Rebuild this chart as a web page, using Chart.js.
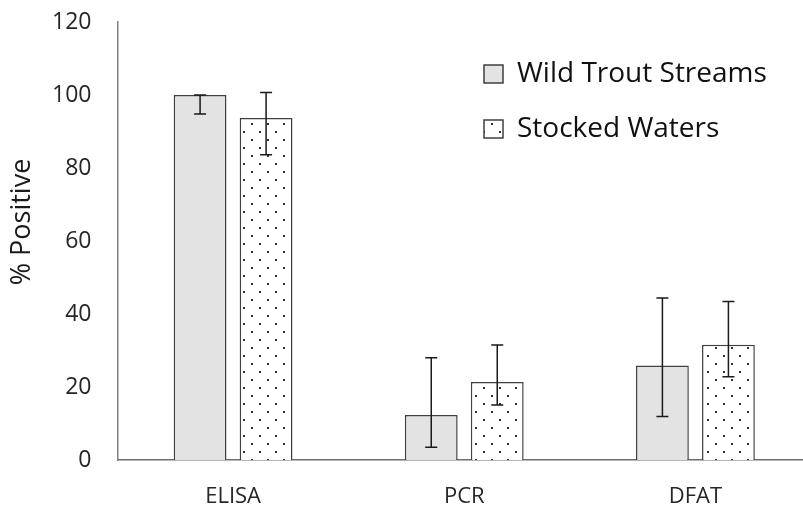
<!DOCTYPE html>
<html>
<head>
<meta charset="utf-8">
<script src="https://cdn.jsdelivr.net/npm/chart.js@4"></script>
<style>
  html, body { margin: 0; padding: 0; background: #fff; overflow: hidden; }
  #wrap { width: 811px; height: 506px; }
</style>
</head>
<body>
<div id="wrap"><canvas id="assayChart"></canvas></div>
<script>
// Detection rates by assay
const categories = ['ELISA', 'PCR', 'DFAT']
const seriesNames = ['Wild Trout Streams', 'Stocked Waters']
const wildValues = [100, 12.3, 25.9]
const stockedValues = [93.7, 21.4, 31.6]
// error bar ends (absolute %)
const wildLow = [94.8, 3.5, 11.9]
const wildHigh = [100, 28.0, 44.4]
const stockedLow = [83.6, 15.1, 22.8]
const stockedHigh = [100.7, 31.5, 43.4]
const yTicks = [0, 20, 40, 60, 80, 100, 120]
const yTitle = '% Positive'

const FONT = '"Open Sans", sans-serif'

document.addEventListener('DOMContentLoaded', function() {
  const canvas = document.getElementById('assayChart')
  const ctx = canvas.getContext('2d')

  // dotted fill for the stocked bars
  function dotPattern() {
    const tile = document.createElement('canvas')
    tile.width = 16
    tile.height = 16
    const g = tile.getContext('2d')
    g.fillStyle = '#ffffff'
    g.fillRect(0, 0, 16, 16)
    g.fillStyle = '#333333'
    g.fillRect(3, 3, 2, 2)
    g.fillRect(11, 11, 2, 2)
    return ctx.createPattern(tile, 'repeat')
  }

  const errorRanges = [
    { low: wildLow, high: wildHigh },
    { low: stockedLow, high: stockedHigh }
  ]

  // whiskers drawn on top of each bar
  const errorBars = {
    id: 'errorBars',
    afterDatasetsDraw(chart) {
      const c = chart.ctx
      const y = chart.scales.y
      c.save()
      c.strokeStyle = '#1a1a1a'
      c.lineWidth = 1.5
      chart.data.datasets.forEach((ds, i) => {
        const meta = chart.getDatasetMeta(i)
        meta.data.forEach((bar, j) => {
          const x = bar.x
          const yLo = y.getPixelForValue(errorRanges[i].low[j])
          const yHi = y.getPixelForValue(errorRanges[i].high[j])
          const cap = 6
          c.beginPath()
          c.moveTo(x, yLo)
          c.lineTo(x, yHi)
          c.moveTo(x - cap, yLo)
          c.lineTo(x + cap, yLo)
          c.moveTo(x - cap, yHi)
          c.lineTo(x + cap, yHi)
          c.stroke()
        })
      })
      c.restore()
    }
  }

  // rotated y title, set a bit above the axis centre
  const axisTitle = {
    id: 'axisTitle',
    afterDraw(chart) {
      const c = chart.ctx
      c.save()
      c.translate(22.5, 222)
      c.rotate(-Math.PI / 2)
      c.font = '27px ' + FONT
      c.fillStyle = '#1a1a1a'
      c.textAlign = 'center'
      c.textBaseline = 'middle'
      c.fillText(yTitle, 0, 0)
      c.restore()
    }
  }

  // legend sits inside the plot, upper right
  const legendSpot = {
    id: 'legendSpot',
    afterLayout(chart) {
      const lg = chart.legend
      if (!lg) return
      const pad = lg.options.labels.padding
      lg.left = 484 - pad
      lg.top = 60 - pad
    }
  }

  new Chart(ctx, {
    type: 'bar',
    data: {
      labels: categories,
      datasets: [{
        label: seriesNames[0],
        data: wildValues,
        backgroundColor: '#e3e3e3',
        borderColor: '#404040',
        borderWidth: 1.5,
        categoryPercentage: 0.571,
        barPercentage: 0.8
      }, {
        label: seriesNames[1],
        data: stockedValues,
        backgroundColor: dotPattern(),
        borderColor: '#404040',
        borderWidth: 1.5,
        categoryPercentage: 0.571,
        barPercentage: 0.8
      }]
    },
    options: {
      responsive: true,
      maintainAspectRatio: false,
      animation: false,
      layout: { padding: { top: 22, left: 0, right: 0, bottom: 0 } },
      plugins: {
        tooltip: { enabled: false },
        legend: {
          position: 'chartArea',
          fullSize: false,
          align: 'start',
          labels: {
            boxWidth: 19,
            boxHeight: 18,
            padding: 27,
            color: '#111111',
            font: { family: FONT, size: 28 }
          }
        }
      },
      scales: {
        x: {
          grid: { display: false },
          border: { display: true, color: '#6f6f6f', width: 1.5 },
          ticks: {
            padding: 16,
            color: '#262626',
            font: { family: FONT, size: 22 }
          },
          afterFit: s => { s.height = 46 }
        },
        y: {
          min: yTicks[0],
          max: yTicks[yTicks.length - 1],
          grid: { display: false },
          border: { display: true, color: '#7f7f7f', width: 1.5 },
          ticks: {
            stepSize: yTicks[1] - yTicks[0],
            padding: 18,
            color: '#262626',
            font: { family: FONT, size: 23 }
          },
          afterFit: s => {
            s.width = 117.5
            // tick padding would otherwise push the plot top down
            s.paddingTop = 0
            s.paddingBottom = 0
          }
        }
      }
    },
    plugins: [errorBars, axisTitle, legendSpot]
  })
})
</script>
</body>
</html>
